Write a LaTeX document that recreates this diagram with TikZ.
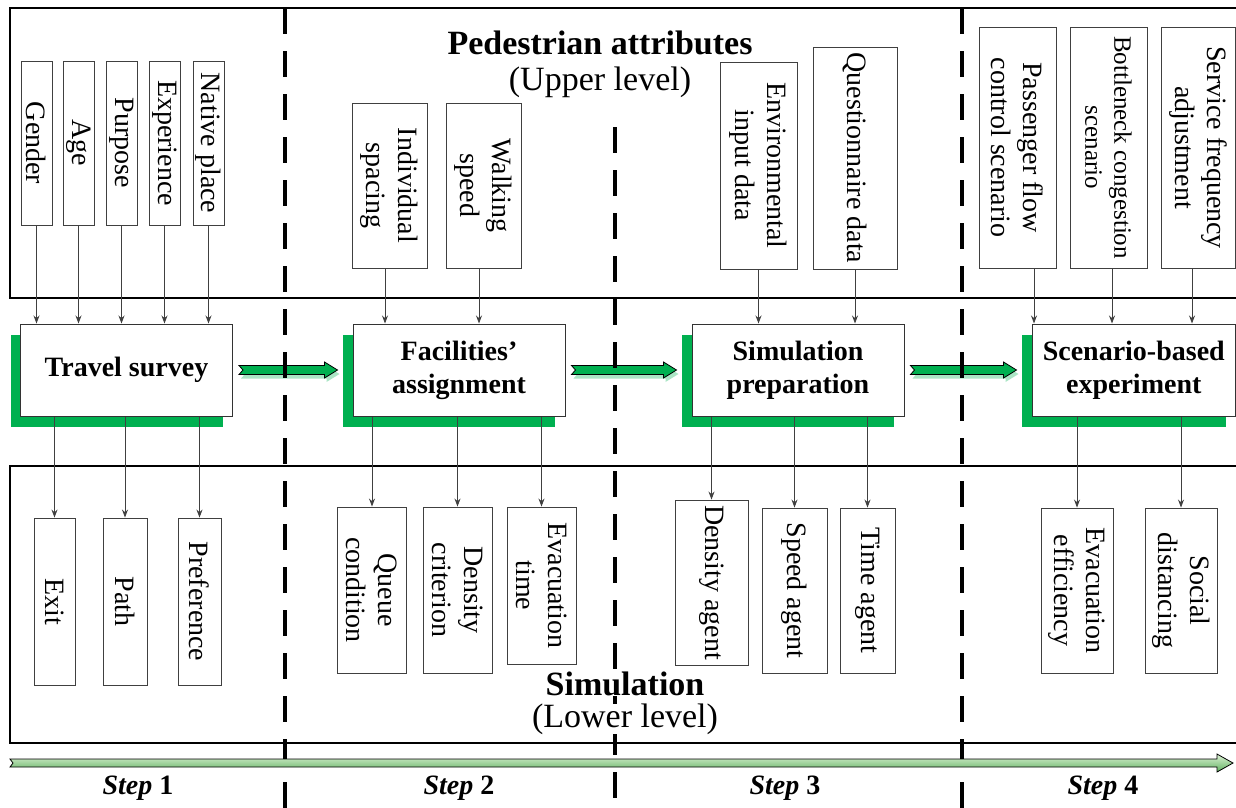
\documentclass[tikz,border=0pt]{standalone}
\usepackage{fontspec}
\setmainfont{Liberation Serif}
\usetikzlibrary{arrows.meta,calc,shadows}

\definecolor{stepgreen}{RGB}{0,176,80}
\definecolor{linegray}{RGB}{64,64,64}

% thick green arrow between two stages
\newcommand{\fatarrow}[2]{%
  \path ([xshift=6pt]#1.east) coordinate (fa-s)
        ([xshift=-15pt]#2.west) coordinate (fa-e)
        (fa-e |- fa-s) coordinate (fa-t);
  \fill[stepgreen!55, opacity=.6, transform canvas={xshift=2pt,yshift=-4pt}]
    ($(fa-s)+(0,-4.5)$) -- ($(fa-t)+(-13,-4.5)$) -- ($(fa-t)+(-13,-8)$) -- (fa-t)
    -- ($(fa-t)+(-13,8)$) -- ($(fa-t)+(-13,4.5)$) -- ($(fa-s)+(0,4.5)$) -- ($(fa-s)+(4,0)$) -- cycle;
  \filldraw[fill=stepgreen, draw=black, line width=.8pt]
    ($(fa-s)+(0,-4.5)$) -- ($(fa-t)+(-13,-4.5)$) -- ($(fa-t)+(-13,-8)$) -- (fa-t)
    -- ($(fa-t)+(-13,8)$) -- ($(fa-t)+(-13,4.5)$) -- ($(fa-s)+(0,4.5)$) -- ($(fa-s)+(4,0)$) -- cycle;
}

\begin{document}
\begin{tikzpicture}[x=1pt, y=-1pt,
    attr/.style 2 args={draw=black!75, line width=.9pt, fill=white, rotate=-90,
      inner sep=0pt, align=center, minimum height=#1, minimum width=#2,
      font=\fontsize{28}{32}\selectfont},
    stage/.style={draw=black!80, line width=1pt, fill=white, minimum width=212pt,
      minimum height=92pt, align=center, font=\bfseries\fontsize{28}{33}\selectfont,
      general shadow={shadow xshift=-10pt, shadow yshift=-11pt, fill=stepgreen}},
    link/.style={draw=linegray, line width=.9pt, -{Stealth[length=8pt,width=6pt]}},
    divider/.style={line width=3.2pt, dash pattern=on 26pt off 17pt},
    bandline/.style={line width=1.2pt},
    leveltitle/.style={font=\bfseries\fontsize{34}{38}\selectfont, fill=white, inner sep=0pt},
    levelsub/.style={font=\fontsize{34}{38}\selectfont, fill=white, inner sep=0pt},
    steplabel/.style={font=\bfseries\fontsize{28}{32}\selectfont}]
    \useasboundingbox (0,0) rectangle (1236,807);
    \clip (0,0) rectangle (1236,807);

    % upper and lower level
    \draw[bandline] (1240,8) -| (10,298) -- (1240,298);
    \draw[bandline] (1240,466) -| (10,743) -- (1240,743);

    % Step 1
    \node[stage] (survey) at (126.5,370) {Travel survey};
    \node[attr={31pt}{164pt}] (gender) at (36.5,143) {Gender};
    \node[attr={31pt}{164pt}] (age) at (78.5,143) {Age};
    \node[attr={31pt}{164pt}] (purpose) at (121.5,143) {Purpose};
    \node[attr={31pt}{164pt}] (experience) at (164.5,143) {Experience};
    \node[attr={31pt}{164pt}] (native) at (208.5,143) {Native place};
    \foreach \n in {gender,age,purpose,experience,native}
        \draw[link] (\n.east) -- (\n.east |- survey.north);
    \node[attr={41pt}{167pt}] (exit) at (54.5,601.5) {Exit};
    \node[attr={44pt}{167pt}] (route) at (125,601.5) {Path};
    \node[attr={43pt}{167pt}] (preference) at (199.5,601.5) {Preference};
    \foreach \n in {exit,route,preference}
        \draw[link] (\n.west |- survey.south) -- (\n.west);

    % Step 2
    \node[stage] (assign) at (459,370) {Facilities’\\assignment};
    \node[attr={75pt}{165pt}] (spacing) at (389.5,185.5) {Individual\\spacing};
    \node[attr={75pt}{165pt}] (walking) at (483.5,185.5) {Walking\\speed};
    \draw[link] ([xshift=-4.5pt]spacing.east) -- ([xshift=-4.5pt]spacing.east |- assign.north);
    \draw[link] ([xshift=-4.5pt]walking.east) -- ([xshift=-4.5pt]walking.east |- assign.north);
    \node[attr={69pt}{166pt}] (queue) at (372,590) {Queue\\condition};
    \node[attr={69pt}{166pt}] (density) at (457.5,590) {Density\\criterion};
    \node[attr={69pt}{157pt}] (evactime) at (541.5,585.5) {Evacuation\\time};
    \foreach \n in {queue,density,evactime}
        \draw[link] (\n.west |- assign.south) -- (\n.west);

    % Step 3
    \node[stage] (prep) at (798,370) {Simulation\\preparation};
    \node[attr={77pt}{207pt}] (envdata) at (758.5,165.5) {Environmental\\input data};
    \node[attr={84pt}{222pt}] (questionnaire) at (855,158) {Questionnaire data};
    \foreach \n in {envdata,questionnaire}
        \draw[link] (\n.east) -- (\n.east |- prep.north);
    \node[attr={73pt}{165pt}] (densagent) at (711.5,582.5) {Density agent};
    \node[attr={65pt}{165pt}] (speedagent) at (794.5,590.5) {Speed agent};
    \node[attr={55pt}{165pt}] (timeagent) at (867.5,590.5) {Time agent};
    \foreach \n in {densagent,speedagent,timeagent}
        \draw[link] (\n.west |- prep.south) -- (\n.west);

    % Step 4
    \node[stage, minimum width=203.5pt] (scen) at (1133.75,370) {Scenario-based\\experiment};
    \node[attr={77pt}{241pt}] (pfc) at (1017.5,147.5) {Passenger flow\\control scenario};
    \node[attr={77pt}{241pt}, font=\fontsize{25}{29}\selectfont] (bcs) at (1108.5,147.5) {Bottleneck congestion\\scenario};
    \node[attr={74pt}{241pt}] (sfa) at (1198,147.5) {Service frequency\\adjustment};
    \draw[link] ([xshift=16.5pt]pfc.east) -- ([xshift=16.5pt]pfc.east |- scen.north);
    \draw[link] ([xshift=3.5pt]bcs.east) -- ([xshift=3.5pt]bcs.east |- scen.north);
    \draw[link] ([xshift=-6pt]sfa.east) -- ([xshift=-6pt]sfa.east |- scen.north);
    \node[attr={72pt}{165pt}] (evaceff) at (1077,590.5) {Evacuation\\efficiency};
    \node[attr={72pt}{165pt}] (social) at (1181,590.5) {Social\\distancing};
    \foreach \n in {evaceff,social}
        \draw[link] (\n.west |- scen.south) -- (\n.west);

    % flow between stages
    \fatarrow{survey}{assign}
    \fatarrow{assign}{prep}
    \fatarrow{prep}{scen}

    % step borders
    \draw[divider] (285,8) -- (285,815);
    \draw[divider] (615,127) -- (615,815);
    \draw[divider] (962,8) -- (962,815);

    % time line
    \coordinate (tl-s) at (10,763);
    \coordinate (tl-e) at (1233,763);
    \draw[line width=.8pt, top color={rgb,255:red,222;green,242;blue,214},
        middle color={rgb,255:red,170;green,218;blue,160},
        bottom color={rgb,255:red,96;green,178;blue,96}]
        ($(tl-s)+(0,-4)$) -- ($(tl-e)+(-16,-4)$) -- ($(tl-e)+(-16,-9)$) -- (tl-e)
        -- ($(tl-e)+(-16,9)$) -- ($(tl-e)+(-16,4)$) -- ($(tl-s)+(0,4)$) -- ($(tl-s)+(3,0)$) -- cycle;

    \node[leveltitle] (upper) at (600,43) {Pedestrian attributes};
    \node[levelsub] (upperlvl) at (600,82) {(Upper level)};
    \node[leveltitle] (lower) at (625,684) {Simulation};
    \node[levelsub] (lowerlvl) at (625,719) {(Lower level)};

    \node[steplabel] (step1) at (138,788) {\textit{Step} 1};
    \node[steplabel] (step2) at (459,788) {\textit{Step} 2};
    \node[steplabel] (step3) at (785,788) {\textit{Step} 3};
    \node[steplabel] (step4) at (1103,788) {\textit{Step} 4};
\end{tikzpicture}
\end{document}
